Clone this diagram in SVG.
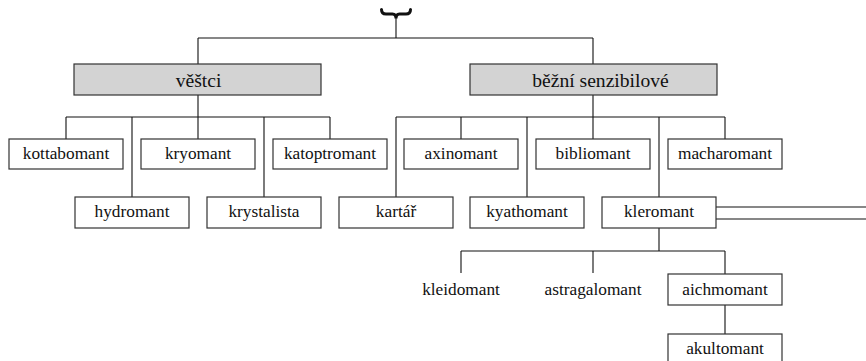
<svg xmlns="http://www.w3.org/2000/svg" width="866" height="361" viewBox="0 0 866 361">
<style>
.box{fill:#fff;stroke:#333;stroke-width:1.2}
.hdr{fill:#d3d3d3;stroke:#333;stroke-width:1.2}
.t{font-family:"Liberation Serif","DejaVu Serif",serif;font-size:17.3px;fill:#111;text-anchor:middle}
.th{font-family:"Liberation Serif","DejaVu Serif",serif;font-size:19.6px;fill:#111;text-anchor:middle}
.c{fill:none;stroke:#111;stroke-width:1.1}
</style>
<rect width="866" height="361" fill="#fff"/>
<g id="connectors" class="c">
<path d="M381.5,9.5 Q381.5,14 386,14 L392.5,14 Q396,14 396,18.5 Q396,14 399.5,14 L406,14 Q410.5,14 410.5,9.5" stroke-width="3" stroke-linecap="round"/>
<path d="M396,18 V38 M198,38 H593 M198,38 V64 M593,38 V64"/>
<path d="M198,95 V117 M66,117 H330 M66,117 V139 M132,117 V197 M198,117 V139 M264,117 V197 M330,117 V139"/>
<path d="M593,95 V117 M396,117 H725 M396,117 V197 M461,117 V139 M527,117 V197 M593,117 V139 M659,117 V197 M725,117 V139"/>
<path d="M716,207 H866 M716,219 H866"/>
<path d="M659,228 V251 M461,251 H725 M461,251 V273 M593,251 V273 M725,251 V274 M725,305 V334"/>
</g>
<g id="vestci"><rect class="hdr" x="74" y="64" width="247" height="31"/><text class="th" x="198.5" y="86.5">věštci</text></g>
<g id="bezni"><rect class="hdr" x="470" y="64" width="247" height="31"/><text class="th" x="600.5" y="86.5">běžní senzibilové</text></g>
<g id="kottabomant"><rect class="box" x="9" y="139" width="114" height="30"/><text class="t" x="66" y="158.5">kottabomant</text></g>
<g id="kryomant"><rect class="box" x="141" y="139" width="114" height="30"/><text class="t" x="198" y="158.5">kryomant</text></g>
<g id="katoptromant"><rect class="box" x="273" y="139" width="114" height="30"/><text class="t" x="330" y="158.5">katoptromant</text></g>
<g id="axinomant"><rect class="box" x="404" y="139" width="114" height="30"/><text class="t" x="461" y="158.5">axinomant</text></g>
<g id="bibliomant"><rect class="box" x="536" y="139" width="114" height="30"/><text class="t" x="593" y="158.5">bibliomant</text></g>
<g id="macharomant"><rect class="box" x="668" y="139" width="114" height="30"/><text class="t" x="725" y="158.5">macharomant</text></g>
<g id="hydromant"><rect class="box" x="75" y="197" width="114" height="31"/><text class="t" x="132" y="217">hydromant</text></g>
<g id="krystalista"><rect class="box" x="207" y="197" width="114" height="31"/><text class="t" x="264" y="217">krystalista</text></g>
<g id="kartar"><rect class="box" x="339" y="197" width="114" height="31"/><text class="t" x="396" y="217">kartář</text></g>
<g id="kyathomant"><rect class="box" x="470" y="197" width="114" height="31"/><text class="t" x="527" y="217">kyathomant</text></g>
<g id="kleromant"><rect class="box" x="602" y="197" width="114" height="31"/><text class="t" x="659" y="217">kleromant</text></g>
<g id="kleidomant"><text class="t" x="461" y="295">kleidomant</text></g>
<g id="astragalomant"><text class="t" x="593" y="295">astragalomant</text></g>
<g id="aichmomant"><rect class="box" x="668" y="274" width="114" height="31"/><text class="t" x="725" y="294.5">aichmomant</text></g>
<g id="akultomant"><rect class="box" x="668" y="334" width="114" height="31"/><text class="t" x="725" y="354">akultomant</text></g>
</svg>
